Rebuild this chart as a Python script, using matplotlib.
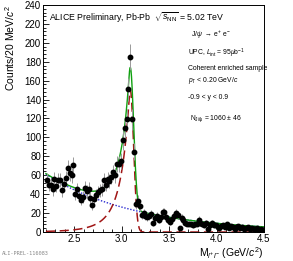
import numpy as np
import matplotlib
matplotlib.use("Agg")
import matplotlib.pyplot as plt
from matplotlib.ticker import MultipleLocator

plt.rcParams['font.family'] = ['Liberation Sans', 'DejaVu Sans']
plt.rcParams['mathtext.fontset'] = 'custom'
plt.rcParams['mathtext.rm'] = 'Liberation Sans'
plt.rcParams['mathtext.it'] = 'Liberation Sans:italic'

# invariant mass histogram, 20 MeV bins starting at 2.2 GeV/c^2
bin_lo = 2.20
bin_w = 0.02
counts = [55, 50, 50, 45, 56, 49, 55, 55, 44, 51, 57, 68, 62, 60, 71,
          40, 45, 38, 34, 37, 47, 43, 46, 36, 29, 35, 39, 42, 44, 45,
          55, 50, 56, 54, 58, 63, 60, 72, 72, 75,
          97, 110, 119, 151, 185, 119, 85, 30, 33, 27, 18, 20, 17, 16, 17,
          19, 10, 15, 17, 13, 16, 21, 21, 16, 13,
          11, 14, 17, 20, 18, 4, 15, 13, 10, 9, 9, 8, 7, 8, 9,
          13, 10, 9, 7, 10, 3, 7, 10, 7, 7,
          5, 4, 6, 7, 5, 8, 4, 6, 5, 3, 5, 6, 4, 5, 3,
          4, 5, 3, 4, 3, 3, 4, 2, 3, 2]

# fit parameters (Crystal Ball signal + exponential background)
cb_norm = 150.0
cb_mean = 3.090
cb_sigma = 0.035
cb_alpha = 0.38
cb_n = 5.0
bkg_norm = 61.0
bkg_slope = 1.05

mass = bin_lo + bin_w * (np.arange(len(counts)) + 0.5)
counts = np.array(counts, dtype=float)
errors = np.sqrt(counts)


def crystal_ball(x):
    t = (x - cb_mean) / cb_sigma
    a = (cb_n / cb_alpha) ** cb_n * np.exp(-cb_alpha ** 2 / 2)
    b = cb_n / cb_alpha - cb_alpha
    out = np.exp(-t ** 2 / 2)
    tail = t < -cb_alpha
    out[tail] = a * (b - t[tail]) ** (-cb_n)
    return cb_norm * out


def background(x):
    return bkg_norm * np.exp(-bkg_slope * (x - bin_lo))


xf = np.linspace(2.2, 4.5, 1000)
sig = crystal_ball(xf)
bkg = background(xf)

fig = plt.figure(figsize=(2.93, 2.61), dpi=100)
ax = fig.add_axes([0.147, 0.111, 0.754, 0.87])

ax.errorbar(mass, counts, yerr=errors, fmt='o', color='black', ms=3.2,
            ecolor='#999999', elinewidth=0.7, capsize=0, zorder=3)
ax.plot(xf, bkg, color='#2a2ad0', ls=(0, (1, 1.2)), lw=1.0, zorder=2)
ax.plot(xf, sig, color='#a01515', ls=(0, (6, 3)), lw=1.1, zorder=2)
ax.plot(xf, sig + bkg, color='#10a010', lw=1.0, zorder=2)

ax.set_xlim(2.17, 4.5)
ax.set_ylim(0, 240)
ax.xaxis.set_major_locator(MultipleLocator(0.5))
ax.xaxis.set_minor_locator(MultipleLocator(0.1))
ax.yaxis.set_major_locator(MultipleLocator(20))
ax.yaxis.set_minor_locator(MultipleLocator(4))
ax.tick_params(which='both', direction='in', top=False, right=False,
               labelsize=7, width=0.6, pad=1.5)
ax.tick_params(which='major', length=4)
ax.tick_params(which='minor', length=2)
for s in ax.spines.values():
    s.set_linewidth(0.7)

ax.set_ylabel('Counts/20 MeV/$c^2$', fontsize=7.5, labelpad=2)
ax.yaxis.set_label_coords(-0.12, 1.0)
ax.yaxis.label.set_horizontalalignment('right')
ax.set_xlabel('M$_{l^{+}l^{-}}$ (GeV/$c^2$)', fontsize=7.5, labelpad=1)
ax.xaxis.set_label_coords(1.0, -0.06)
ax.xaxis.label.set_horizontalalignment('right')

fs = 4.9
fig.text(0.168, 0.93, r'ALICE Preliminary, Pb-Pb  $\sqrt{s_{\rm NN}}$ = 5.02 TeV', fontsize=6.3, va='center')
fig.text(0.652, 0.868, r'J/$\psi$ $\rightarrow$ e$^{+}$ e$^{-}$', fontsize=fs, va='center')
fig.text(0.643, 0.797, r'UPC, $L_{\rm int}$ = 95$\mu$b$^{-1}$', fontsize=fs, va='center')
fig.text(0.643, 0.737, 'Coherent enriched sample', fontsize=fs, va='center')
fig.text(0.643, 0.69, r'$p_{\rm T}$ < 0.20 GeV/$c$', fontsize=fs, va='center')
fig.text(0.643, 0.628, '-0.9 < y < 0.9', fontsize=fs, va='center')
fig.text(0.648, 0.545, r'N$_{\rm J/\psi}$ = 1060 $\pm$ 46', fontsize=fs, va='center')

fig.text(0.008, 0.03, 'ALI-PREL-116083', fontsize=3.8, color='#888888',
         family='DejaVu Sans Mono', va='center')

fig.savefig('out.png', dpi=100)
